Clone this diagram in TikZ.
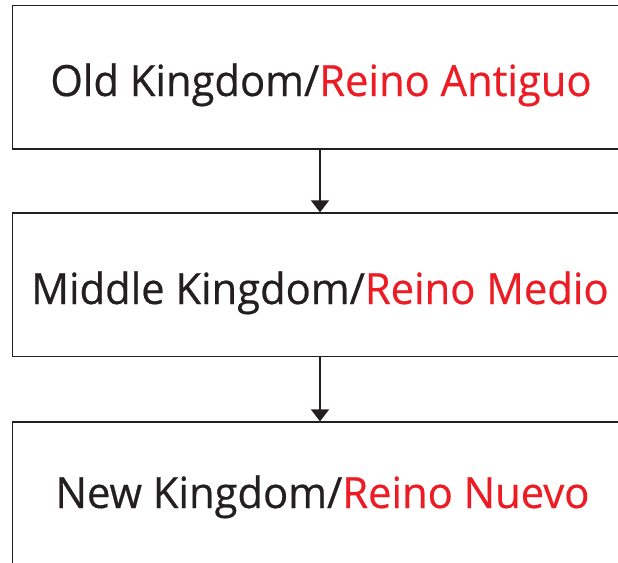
\documentclass[tikz,border=0pt]{standalone}
\usepackage{fontspec}
\usepackage{graphicx}
\setmainfont{Open Sans}
\newfontfamily\erafont{Open Sans}[RawFeature={embolden=0.5}]
\usetikzlibrary{arrows.meta}
\definecolor{inkdark}{HTML}{231F20}
\definecolor{inkred}{HTML}{ED1C24}
\newcommand{\eratext}[2]{\scalebox{0.97}[1]{#1/{\color{inkred}#2}}}
\tikzset{
  x=1pt, y=-1pt,
  erabox/.style={draw=inkdark, line width=1.25pt, rectangle,
    minimum width=617pt, minimum height=143.5pt, inner sep=0pt},
  eralabel/.style={anchor=base, inner sep=0pt, text=inkdark,
    font=\erafont\fontsize{43}{50}\selectfont},
  flowarrow/.style={draw=inkdark, line width=1.25pt,
    -{Triangle[width=18pt,length=12pt]}}
}
\begin{document}
\begin{tikzpicture}
  \useasboundingbox (0,0) rectangle (618,562);
  \clip (0,0) rectangle (618,562);
  % the three era boxes, running off the right and bottom edges
  \node[erabox] (old) at (321,77.25) {};
  \node[erabox] (middle) at (321,284.75) {};
  \node[erabox] (new) at (321,493.75) {};
  % bilingual captions
  \node[eralabel] (oldtext) at (321,96) {\eratext{Old Kingdom}{Reino Antiguo}};
  \node[eralabel] (middletext) at (320,304) {\eratext{Middle Kingdom}{Reino Medio}};
  \node[eralabel] (newtext) at (322.5,508) {\eratext{New Kingdom}{Reino Nuevo}};
  % connectors
  \draw[flowarrow] (old.south -| 320,0) -- (middle.north -| 320,0);
  \draw[flowarrow] (middle.south -| 320,0) -- (new.north -| 320,0);
\end{tikzpicture}
\end{document}
